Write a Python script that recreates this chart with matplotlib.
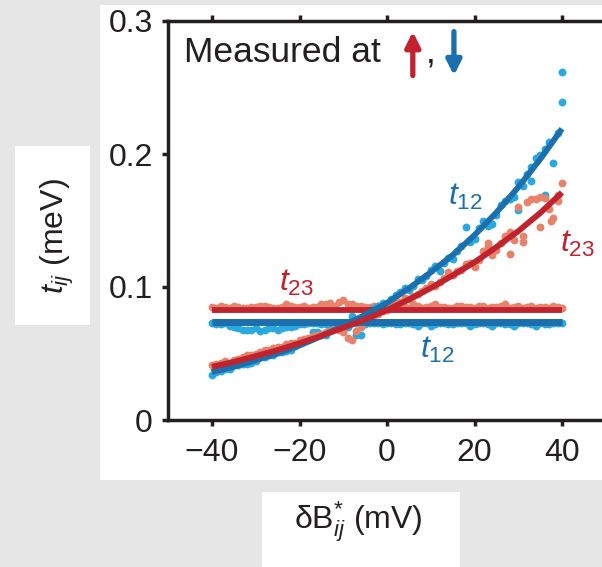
import matplotlib.pyplot as plt
import numpy as np
from matplotlib.patches import Rectangle

plt.rcParams['font.family'] = ['Liberation Sans', 'DejaVu Sans']
plt.rcParams['mathtext.fontset'] = 'custom'
plt.rcParams['mathtext.rm'] = 'Liberation Sans'
plt.rcParams['mathtext.it'] = 'Liberation Sans:italic'

# кольори
ink = '#231f20'
dark_blue = '#1b6fad'
light_blue = '#2aa8e0'
dark_red = '#c1232e'
salmon = '#e8836b'
green = '#2f7d3a'

# δB* (mV): парні та непарні точки
db = np.arange(-40, 41, 2)
db_odd = np.arange(-39, 40, 2)

# точки: t12 (зростає), t23 (зростає), t12 (пласка), t23 (пласка)
t12_rise = [0.034, 0.037, 0.038, 0.041, 0.042, 0.044, 0.047, 0.049, 0.051, 0.053,
            0.058, 0.061, 0.066, 0.064, 0.069, 0.072, 0.078, 0.064, 0.083, 0.086,
            0.087, 0.094, 0.099, 0.101, 0.105, 0.113, 0.112, 0.122, 0.127, 0.145,
            0.136, 0.150, 0.147, 0.162, 0.166, 0.158, 0.185, 0.197, 0.204, 0.193, 0.239]
t12_rise_odd = [0.036, 0.038, 0.041, 0.042, 0.043, 0.047, 0.049, 0.051, 0.052, 0.056,
                0.060, 0.066, 0.065, 0.068, 0.070, 0.070, 0.064, 0.081, 0.084, 0.088,
                0.091, 0.096, 0.098, 0.106, 0.108, 0.116, 0.118, 0.121, 0.131, 0.134,
                0.144, 0.146, 0.154, 0.165, 0.168, 0.176, 0.190, 0.199, 0.209, 0.216]
t12_extra_x = [40, 36, 33, 30]
t12_extra_y = [0.262, 0.169, 0.180, 0.179]

t23_rise = [0.041, 0.043, 0.043, 0.046, 0.049, 0.050, 0.053, 0.054, 0.055, 0.058,
            0.060, 0.062, 0.064, 0.066, 0.070, 0.066, 0.060, 0.070, 0.077, 0.080,
            0.083, 0.088, 0.092, 0.093, 0.097, 0.102, 0.104, 0.111, 0.112, 0.117,
            0.115, 0.127, 0.124, 0.133, 0.141, 0.160, 0.164, 0.166, 0.167, 0.152, 0.178]
t23_rise_odd = [0.042, 0.044, 0.045, 0.047, 0.049, 0.051, 0.053, 0.055, 0.057, 0.058,
                0.061, 0.063, 0.064, 0.067, 0.068, 0.062, 0.067, 0.074, 0.079, 0.082,
                0.085, 0.089, 0.091, 0.095, 0.099, 0.101, 0.107, 0.109, 0.113, 0.118,
                0.120, 0.130, 0.128, 0.138, 0.135, 0.138, 0.166, 0.168, 0.159, 0.169]
t23_extra_x = [23, 28, 31, 35, 37.5, 39]
t23_extra_y = [0.133, 0.125, 0.134, 0.145, 0.150, 0.165]

t12_flat = [0.073, 0.072, 0.071, 0.069, 0.068, 0.069, 0.068, 0.069, 0.069, 0.070,
            0.072, 0.073, 0.073, 0.072, 0.073, 0.072, 0.073, 0.072, 0.073, 0.073,
            0.073, 0.072, 0.073, 0.072, 0.073, 0.071, 0.073, 0.072, 0.073, 0.073,
            0.072, 0.073, 0.071, 0.073, 0.072, 0.073, 0.073, 0.071, 0.072, 0.073, 0.073]
t12_flat_odd = [0.072, 0.073, 0.070, 0.068, 0.068, 0.067, 0.069, 0.068, 0.070, 0.071,
                0.072, 0.073, 0.072, 0.073, 0.072, 0.073, 0.073, 0.072, 0.073, 0.072,
                0.073, 0.072, 0.073, 0.071, 0.073, 0.072, 0.073, 0.072, 0.073, 0.071,
                0.073, 0.072, 0.073, 0.072, 0.071, 0.073, 0.072, 0.073, 0.072, 0.073]

t23_flat = [0.085, 0.086, 0.084, 0.085, 0.084, 0.085, 0.086, 0.084, 0.085, 0.086,
            0.085, 0.084, 0.085, 0.087, 0.086, 0.090, 0.087, 0.086, 0.085, 0.086,
            0.084, 0.086, 0.085, 0.087, 0.084, 0.086, 0.085, 0.084, 0.086, 0.085,
            0.084, 0.086, 0.085, 0.086, 0.084, 0.086, 0.085, 0.084, 0.085, 0.086, 0.084]
t23_flat_odd = [0.084, 0.085, 0.086, 0.084, 0.085, 0.086, 0.085, 0.084, 0.087, 0.085,
                0.086, 0.085, 0.087, 0.088, 0.089, 0.087, 0.086, 0.085, 0.086, 0.085,
                0.086, 0.085, 0.084, 0.086, 0.085, 0.087, 0.085, 0.084, 0.086, 0.085,
                0.086, 0.084, 0.085, 0.087, 0.085, 0.084, 0.086, 0.085, 0.084, 0.085]

# лінії апроксимації, крок 5 мВ
fit_x = [-40, -35, -30, -25, -20, -15, -10, -5, 0, 5, 10, 15, 20, 25, 30, 35, 40]
fit12 = [0.036, 0.040, 0.045, 0.050, 0.056, 0.063, 0.071, 0.079, 0.088, 0.099,
         0.111, 0.124, 0.139, 0.156, 0.175, 0.196, 0.219]
fit23 = [0.040, 0.0437, 0.048, 0.0526, 0.0577, 0.0633, 0.0694, 0.0756, 0.0827, 0.0906,
         0.0992, 0.1087, 0.1186, 0.130, 0.142, 0.1556, 0.171]
green_x = [-40, -35, -30, -25, -20]
green_y = [0.0375, 0.0412, 0.0455, 0.0505, 0.0560]
flat_x = [-40, 40]
flat12 = [0.0738, 0.0738]
flat23 = [0.0826, 0.0826]

W, H = 602, 567
fig = plt.figure(figsize=(W / 100, H / 100), dpi=100, facecolor='#e6e6e6')

# білі підкладки
def box(x0, y0, x1, y1):
    fig.patches.append(Rectangle((x0 / W, 1 - y1 / H), (x1 - x0) / W, (y1 - y0) / H,
                                 transform=fig.transFigure, facecolor='white',
                                 edgecolor='none', zorder=-10))

box(100, 5, 602, 480)
box(15, 146, 90, 325)
box(262, 492, 460, 567)

xl, xr = -50, 52
px_per = 4.375
left_px = 387 + xl * px_per
right_px = 387 + xr * px_per
ax = fig.add_axes([left_px / W, 147 / H, (right_px - left_px) / W, 399 / H])
ax.set_facecolor('white')
ax.set_xlim(xl, xr)
ax.set_ylim(0, 0.3)

s = 32
for xs, ys, c in [(db, t12_flat, light_blue), (db_odd, t12_flat_odd, light_blue),
                  (db, t23_flat, salmon), (db_odd, t23_flat_odd, salmon),
                  (db, t12_rise, light_blue), (db_odd, t12_rise_odd, light_blue),
                  (t12_extra_x, t12_extra_y, light_blue),
                  (db, t23_rise, salmon), (db_odd, t23_rise_odd, salmon),
                  (t23_extra_x, t23_extra_y, salmon)]:
    ax.scatter(xs, ys, s=s, color=c, lw=0, zorder=2)

ax.plot(green_x, green_y, color=green, lw=1.5, zorder=3)
ax.plot(flat_x, flat12, color=dark_blue, lw=5, solid_capstyle='butt', zorder=4)
ax.plot(flat_x, flat23, color=dark_red, lw=4.2, solid_capstyle='butt', zorder=4)
ax.plot(fit_x, fit12, color=dark_blue, lw=4.2, solid_capstyle='butt', zorder=4)
ax.plot(fit_x, fit23, color=dark_red, lw=4.2, solid_capstyle='butt', zorder=5)

# підписи кривих
fs = 23
ax.text(17.8, 0.168, r'$t_{12}$', color=dark_blue, fontsize=fs, ha='center', va='center')
ax.text(43.5, 0.132, r'$t_{23}$', color=dark_red, fontsize=fs, ha='center', va='center')
ax.text(-20.6, 0.103, r'$t_{23}$', color=dark_red, fontsize=fs, ha='center', va='center')
ax.text(11.4, 0.053, r'$t_{12}$', color=dark_blue, fontsize=fs, ha='center', va='center')

# "Measured at ↑, ↓"
ax.text(-46.5, 0.269, 'Measured at', color=ink, fontsize=25.5, va='baseline')
ax.annotate('', xy=(5.9, 0.292), xytext=(5.9, 0.259),
            arrowprops=dict(arrowstyle='-|>', color=dark_red, lw=3.8,
                            mutation_scale=22, shrinkA=0, shrinkB=0))
ax.text(8.8, 0.269, ',', color=ink, fontsize=25.5, va='baseline')
ax.annotate('', xy=(15.3, 0.259), xytext=(15.3, 0.292),
            arrowprops=dict(arrowstyle='-|>', color=dark_blue, lw=3.8,
                            mutation_scale=22, shrinkA=0, shrinkB=0))

for side in ['left', 'bottom', 'top']:
    ax.spines[side].set_linewidth(2.5)
    ax.spines[side].set_color(ink)
ax.spines['right'].set_visible(False)

ax.set_xticks([-40, -20, 0, 20, 40])
ax.set_xticklabels(['\u221240', '\u221220', '0', '20', '40'])
ax.set_yticks([0, 0.1, 0.2, 0.3])
ax.set_yticklabels(['0', '0.1', '0.2', '0.3'])
ax.tick_params(axis='both', direction='out', length=4, width=2.5, color=ink,
               labelsize=fs, labelcolor=ink)
ax.tick_params(axis='x', pad=9, top=True)
ax.tick_params(axis='y', pad=7)

fig.text(57 / W, 1 - 236 / H, r'$t_{ij}$ (meV)', rotation=90, fontsize=fs,
         color=ink, ha='center', va='center')
fig.text(358 / W, 1 - 522 / H, r'$\mathrm{\delta B}^{*}_{ij}$ (mV)', fontsize=fs,
         color=ink, ha='center', va='center')

fig.savefig('out.png', dpi=100, facecolor=fig.get_facecolor())
